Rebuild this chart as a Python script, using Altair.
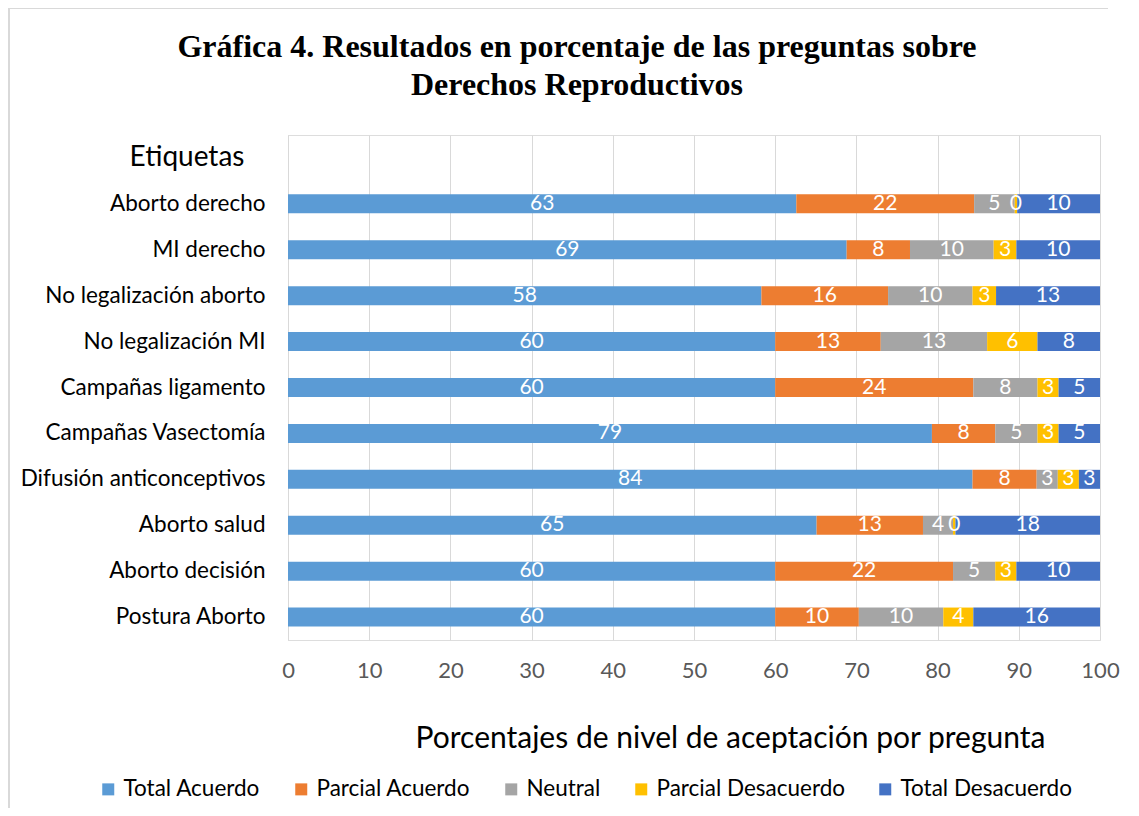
import altair as alt
import pandas as pd

categories = [
    "Aborto derecho",
    "MI derecho\u00a0",
    "No legalización aborto\u00a0",
    "No legalización MI",
    "Campañas ligamento",
    "Campañas Vasectomía\u00a0",
    "Difusión anticonceptivos",
    "Aborto salud",
    "Aborto decisión\u00a0",
    "Postura Aborto",
]
series_names = ["Total Acuerdo", "Parcial Acuerdo", "Neutral", "Parcial Desacuerdo", "Total Desacuerdo"]
series_colors = ["#5B9BD5", "#ED7D31", "#A5A5A5", "#FFC000", "#4472C4"]

total_acuerdo = [62.6, 68.8, 58.3, 60.0, 60.0, 79.3, 84.3, 65.1, 60.0, 60.0]
parcial_acuerdo = [21.9, 7.8, 15.6, 13.0, 24.4, 7.8, 7.9, 13.1, 21.9, 10.3]
neutral = [5.0, 10.3, 10.4, 13.1, 7.9, 5.2, 2.6, 3.7, 5.2, 10.4]
parcial_desacuerdo = [0.3, 2.8, 2.9, 6.2, 2.6, 2.6, 2.6, 0.3, 2.6, 3.7]
total_desacuerdo = [10.2, 10.3, 12.8, 7.7, 5.1, 5.1, 2.6, 17.8, 10.3, 15.6]

x_ticks = [0, 10, 20, 30, 40, 50, 60, 70, 80, 90, 100]
header_label = "Etiquetas"
title_lines = ["Gráfica 4. Resultados en porcentaje de las preguntas sobre", "Derechos Reproductivos"]

rows = []
for k, (name, vals) in enumerate(zip(series_names, [total_acuerdo, parcial_acuerdo, neutral, parcial_desacuerdo, total_desacuerdo])):
    for cat, v in zip(categories, vals):
        rows.append({"cat": cat, "serie": name, "k": k, "value": v})
df = pd.DataFrame(rows)

FONT = "Lato"
y_domain = [header_label] + categories

y_enc = alt.Y(
    "cat:N",
    sort=None,
    scale=alt.Scale(domain=y_domain, paddingInner=0, paddingOuter=0),
    axis=alt.Axis(
        title=None,
        ticks=False,
        grid=False,
        domainColor="#D9D9D9",
        labelFont=FONT,
        labelFontSize=22.5,
        labelColor="#000000",
        labelPadding=23,
        labelLimit=400,
        labelExpr="datum.value == 'Etiquetas' ? '' : datum.value",
    ),
)

x_scale = alt.Scale(domain=[0, 100], nice=False)

base = alt.Chart(df).transform_stack(
    stack="value", as_=["x0", "x1"], groupby=["cat"], sort=[alt.SortField("k", order="ascending")]
).transform_calculate(mid="(datum.x0 + datum.x1) / 2")

bars = base.mark_bar(size=19).encode(
    y=y_enc,
    x=alt.X(
        "x0:Q",
        scale=x_scale,
        axis=alt.Axis(
            values=x_ticks,
            title="Porcentajes de nivel de aceptación por pregunta",
            titleFont=FONT,
            titleFontSize=30,
            titleFontWeight="normal",
            titleColor="#000000",
            titleX=442,
            titleY=98,
            titleAlign="center",
            titleBaseline="middle",
            labelFont=FONT,
            labelFontSize=22,
            labelColor="#595959",
            labelPadding=20,
            labelFlush=False,
            ticks=False,
            domain=False,
            grid=True,
            gridColor="#D9D9D9",
            gridWidth=1,
        ),
    ),
    x2="x1:Q",
    color=alt.Color(
        "serie:N",
        scale=alt.Scale(domain=series_names, range=series_colors),
        legend=alt.Legend(
            title=None,
            orient="none",
            legendX=-191,
            legendY=643,
            direction="horizontal",
            symbolType="square",
            symbolSize=144,
            symbolStrokeWidth=0,
            labelFont=FONT,
            labelFontSize=22.5,
            labelColor="#000000",
            labelOffset=4,
            labelLimit=400,
            columnPadding=29,
        ),
    ),
    order=alt.Order("k:Q"),
)

labels = base.mark_text(color="white", font=FONT, fontSize=21, baseline="middle").encode(
    y=alt.Y("cat:N", sort=None),
    x=alt.X("mid:Q", scale=x_scale),
    text=alt.Text("value:Q", format=".0f"),
)

header = alt.Chart(pd.DataFrame({"cat": [header_label]})).mark_text(
    font=FONT, fontSize=28, color="#000000", align="center", baseline="middle"
).encode(
    y=alt.Y("cat:N", sort=None),
    x=alt.value(-101),
    text="cat:N",
)

title_mark = alt.Chart(pd.DataFrame({"cat": [header_label]})).mark_text(
    font="Liberation Serif", fontSize=32, fontWeight="bold", color="#000000",
    align="center", baseline="middle", lineHeight=38,
).encode(
    x=alt.value(289),
    y=alt.value(-88),
    text=alt.value(title_lines),
)

frame_top = alt.Chart(pd.DataFrame({"cat": [header_label]})).mark_rule(
    stroke="#D9D9D9", strokeWidth=2
).encode(
    x=alt.value(-280),
    x2=alt.value(820),
    y=alt.value(-127),
)

frame_left = alt.Chart(pd.DataFrame({"cat": [header_label]})).mark_rule(
    stroke="#D9D9D9", strokeWidth=2
).encode(
    x=alt.value(-279),
    y=alt.value(-128),
    y2=alt.value(673),
)

chart = alt.layer(frame_top, frame_left, bars, labels, header, title_mark).properties(
    width=812,
    height=505,
    autosize=alt.AutoSizeParams(type="none"),
    padding={"left": 280, "top": 127, "right": 31, "bottom": 168},
).configure_view(stroke=None).configure(background="white")

chart.save("out.html", embed_options={"renderer": "svg", "actions": False})
